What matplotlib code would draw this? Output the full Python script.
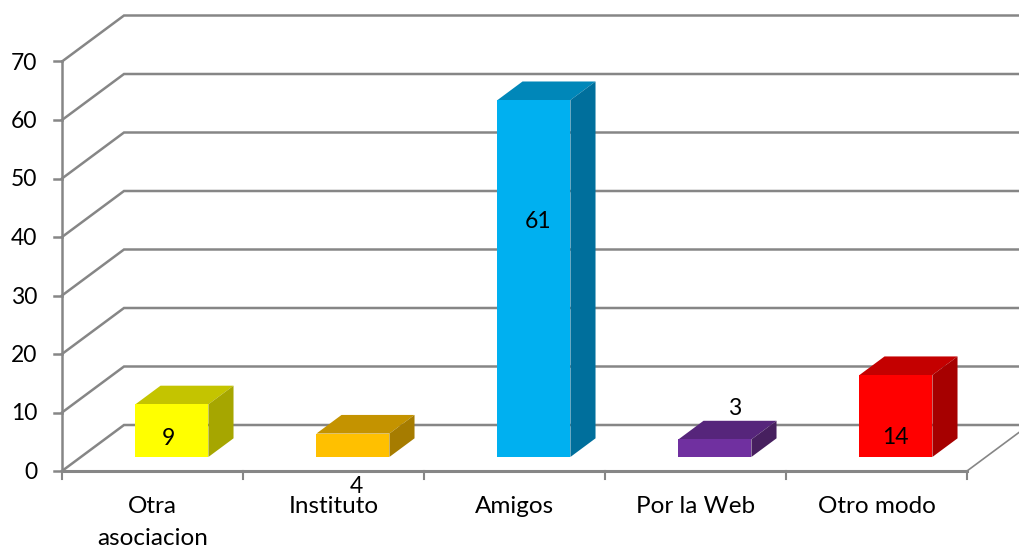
import matplotlib
matplotlib.use("Agg")
import matplotlib.pyplot as plt
from matplotlib.patches import Polygon

plt.rcParams["font.family"] = ["Lato", "DejaVu Sans"]

categories = ["Otra\nasociacion", "Instituto", "Amigos", "Por la Web", "Otro modo"]
values = [9, 4, 61, 3, 14]
y_ticks = [0, 10, 20, 30, 40, 50, 60, 70]
front_colors = ["#ffff00", "#ffc000", "#00b0f0", "#7030a0", "#ff0000"]
top_colors = ["#c4c400", "#c49300", "#0087b9", "#56257b", "#c40000"]
side_colors = ["#a6a600", "#a67c00", "#006f9c", "#47205f", "#a60000"]
# label offset from the middle of the bar front, px (right, up)
label_offsets = [(-3, -8), (4, -41), (5, 57), (20, 40), (0, -21)]

GRID = "#868686"
PX_X = 181.0   # px per category
PX_Y = 5.85    # px per value unit
DEPTH_X = 62 / PX_X
DEPTH_Y = 46 / PX_Y
BAR_W = 73 / PX_X
BAR_SHIFT = 0.5 / PX_X
D0, D1 = 0.305, 0.71  # bar depth range

fig = plt.figure(figsize=(10.19, 5.47), dpi=100)
ax = fig.add_axes([0, 0, 1, 1])
ax.set_xlim(-62 / PX_X, (1019 - 62) / PX_X)
ax.set_ylim(-(547 - 471) / PX_Y, 471 / PX_Y)
ax.axis("off")


def proj(x, y, d):
    return (x + d * DEPTH_X, y + d * DEPTH_Y)


n = len(categories)
right_edge = ax.get_xlim()[1]

# walls
for t in y_ticks:
    p0 = proj(0, t, 0)
    p1 = proj(0, t, 1)
    ax.plot([p0[0], p1[0], right_edge], [p0[1], p1[1], p1[1]], color=GRID, lw=1.8, zorder=1,
            solid_joinstyle="miter")
    ax.plot([-8 / PX_X, 0], [t, t], color=GRID, lw=1.8, zorder=1)
    ax.text(-25 / PX_X, t - 1.5 / PX_Y, str(t), ha="right", va="center", fontsize=16.5, color="black")

# axes lines
ax.plot([0, 0], [0, y_ticks[-1]], color=GRID, lw=1.8, zorder=1)
ax.plot([0, n], [0, 0], color=GRID, lw=2.2, zorder=1)
p = proj(n, 0, 1)
ax.plot([n, p[0]], [0, p[1]], color=GRID, lw=1.2, zorder=1)
for i in range(n + 1):
    ax.plot([i, i], [0, -8 / PX_Y], color=GRID, lw=1.5, zorder=1)

for i, (cat, val) in enumerate(zip(categories, values)):
    left = i + 0.5 - BAR_W / 2 + BAR_SHIFT
    right = i + 0.5 + BAR_W / 2 + BAR_SHIFT
    front = [proj(left, 0, D0), proj(right, 0, D0), proj(right, val, D0), proj(left, val, D0)]
    top = [proj(left, val, D0), proj(right, val, D0), proj(right, val, D1), proj(left, val, D1)]
    side = [proj(right, 0, D0), proj(right, 0, D1), proj(right, val, D1), proj(right, val, D0)]
    ax.add_patch(Polygon(top, closed=True, fc=top_colors[i], ec="none", zorder=3))
    ax.add_patch(Polygon(side, closed=True, fc=side_colors[i], ec="none", zorder=3))
    ax.add_patch(Polygon(front, closed=True, fc=front_colors[i], ec="none", zorder=4))

    mid = proj(i + 0.5, val / 2, D0)
    ax.annotate(str(val), xy=mid, xytext=(label_offsets[i][0] * 0.72, label_offsets[i][1] * 0.72),
                textcoords="offset points", ha="center", va="center", fontsize=16.5, zorder=5)

    ax.text(i + 0.5, -25 / PX_Y, cat, ha="center", va="top", fontsize=17.5, color="black",
            linespacing=1.62)

fig.savefig("out.png", dpi=100)
